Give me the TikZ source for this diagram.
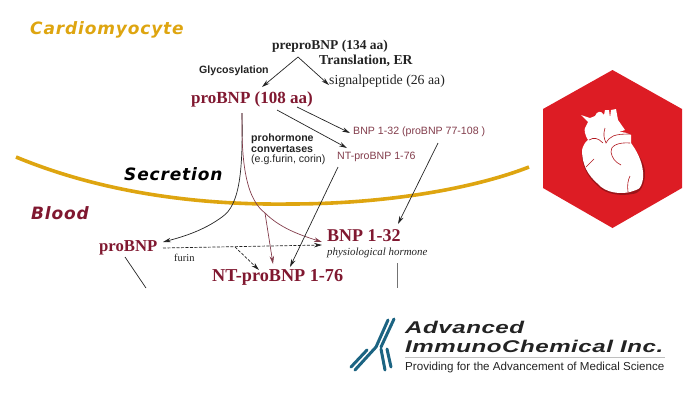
\documentclass[tikz,border=0pt]{standalone}
\usepackage{fontspec}
\setmainfont{Liberation Serif}
\setsansfont{Liberation Sans}
\newfontfamily\widefont[LetterSpace=5]{DejaVu Sans}
\newfontfamily\logofont[FakeStretch=1.42,LetterSpace=3]{Liberation Sans}
\usetikzlibrary{arrows.meta}
\definecolor{goldCurve}{RGB}{222,165,16}
\definecolor{wineText}{RGB}{128,24,48}
\definecolor{roseLine}{RGB}{130,60,75}
\definecolor{heartRed}{RGB}{221,28,36}
\definecolor{tealLogo}{RGB}{28,100,130}
\definecolor{inkGray}{RGB}{35,35,35}

\begin{document}
\begin{tikzpicture}[x=1pt, y=-1pt,
    region/.style={font=\widefont\bfseries\itshape\fontsize{17}{17}\selectfont, inner sep=0pt},
    peptide/.style={font=\rmfamily\bfseries\fontsize{17}{17}\selectfont, text=wineText, inner sep=0pt},
    plain/.style={font=\rmfamily\fontsize{13.8}{14}\selectfont, text=inkGray, inner sep=0pt},
    note/.style={font=\sffamily\bfseries\fontsize{10.6}{10.5}\selectfont, text=inkGray, inner sep=0pt},
    small/.style={font=\sffamily\fontsize{10.6}{11}\selectfont, text=roseLine, inner sep=0pt},
    brand/.style={font=\logofont\bfseries\itshape\fontsize{17}{17}\selectfont, text=inkGray, inner sep=0pt},
    arr/.style={-{Stealth[length=8pt,width=4.5pt]}, inkGray, line width=0.7pt},
    rosearr/.style={arr, roseLine},
    dasharr/.style={arr, dash pattern=on 3pt off 1.5pt},
    antibody/.style={tealLogo, line width=3pt, line cap=round}
  ]
  \useasboundingbox (0,0) rectangle (700,400);

  % membrane
  \draw[goldCurve, line width=3.6pt] (16,157) .. controls (110,196) and (210,205) .. (290,204)
    .. controls (380,204) and (470,190) .. (529,167);

  \node[region, text=goldCurve, anchor=west] (cardio) at (30,30) {Cardiomyocyte};
  \node[region, text=black, anchor=west] (secretion) at (124,174) {Secretion};
  \node[region, text=wineText, anchor=west] (blood) at (31,213) {Blood};

  \node[plain, font=\rmfamily\bfseries\fontsize{13.5}{14}\selectfont, anchor=west] (prepro) at (272,46) {preproBNP (134 aa)};
  \node[plain, font=\rmfamily\bfseries\fontsize{13.7}{14}\selectfont, anchor=west] (transl) at (319,61) {Translation, ER};
  \node[plain, anchor=west] (signal) at (329,81) {signalpeptide (26 aa)};
  \node[note, anchor=west] (glyco) at (199,71) {Glycosylation};
  \node[peptide, anchor=west] (pro108) at (191,99) {proBNP (108 aa)};
  \node[small, anchor=west] (bnpfrag) at (353,132) {BNP 1-32 (proBNP 77-108 )};
  \node[small, anchor=west] (ntfrag) at (337,157) {NT-proBNP 1-76};
  \node[note, anchor=north west, align=left] (conv) at (251,134) {prohormone\\convertases\\{\mdseries (e.g.furin, corin)}};

  \node[peptide, font=\rmfamily\bfseries\fontsize{16.7}{17}\selectfont, anchor=west] (problood) at (99,248) {proBNP};
  \node[plain, font=\rmfamily\fontsize{10.5}{11}\selectfont, anchor=west] (furin) at (174,258) {furin};
  \node[peptide, font=\rmfamily\bfseries\fontsize{18}{18}\selectfont, anchor=west] (bnp) at (327,236) {BNP 1-32};
  \node[plain, font=\rmfamily\itshape\fontsize{10.9}{11}\selectfont, anchor=west] (physio) at (327,253) {physiological hormone};
  \node[peptide, font=\rmfamily\bfseries\fontsize{18.2}{18}\selectfont, anchor=west] (ntblood) at (212,277) {NT-proBNP 1-76};

  % free ends of the connectors
  \coordinate (apex) at (298,57);
  \coordinate (stem) at (242,113);
  \coordinate (fork) at (265,213);
  \coordinate (dashfork) at (235,247);
  \coordinate (dashstart) at (163,248);
  \coordinate (cutA) at (146,288);

  \draw[arr] (apex) -- (262,87);
  \draw[arr] (apex) -- (329,85);
  \draw[arr] (297,107) -- (350,133);
  \draw[arr] (277,110) -- (347,148);
  \draw[arr] (stem) .. controls (243,170) and (240,205) .. (222,217) .. controls (207,228) and (190,235) .. (163,242);
  \draw[rosearr] (stem) .. controls (241,170) and (248,200) .. (265,213) .. controls (280,228) and (300,235) .. (322,242);
  \draw[rosearr] (fork) -- (273,264);
  \draw[arr] (338,167) -- (290,267);
  \draw[arr] (438,143) -- (398,224);
  \draw[dasharr] (dashstart) -- (322,245);
  \draw[dasharr] (dashfork) -- (259,270);
  \draw[inkGray, line width=0.7pt] (125,257) -- (cutA);
  \draw[black!55, line width=0.9pt] (397,263) -- (397,288);

  % hexagon with heart
  \fill[heartRed] (612.5,70) -- (682,109) -- (682,188) -- (612.5,228) -- (543,188) -- (543,109) -- cycle;
  \fill[heartRed!70!black] (582,150) .. controls (581,162) and (585,175) .. (598,186) .. controls (606,195) and (622,196) .. (632,194)
    .. controls (640,194) and (645,185) .. (645,173) .. controls (645,165) and (640,155) .. (632,148) -- cycle;
  \fill[white]
    (581,115) -- (590,118) -- (595,116) .. controls (597,111) and (601,110) .. (604,115) -- (605,110) -- (609,110) -- (610,118)
    -- (611,110) -- (616,109) -- (618,120) -- (625,130) -- (619,132) .. controls (624,132) and (628,133) .. (631,135)
    -- (631,143) .. controls (636,150) and (642,160) .. (643,172) .. controls (644,182) and (640,190) .. (636,190)
    -- (630,192) .. controls (622,194) and (606,194) .. (597,183) .. controls (588,175) and (582,165) .. (582,150)
    .. controls (583,146) and (585,142) .. (588,140) .. controls (585,135) and (584,130) .. (585,128) -- (588,122) -- cycle;
  \draw[heartRed!80!black, line width=0.6pt] (589,140) .. controls (594,137) and (598,138) .. (603,143)
    (605,128) .. controls (603,135) and (604,138) .. (606,143) .. controls (610,136) and (614,134) .. (630,134)
    (630,143) .. controls (618,142) and (610,146) .. (611,152) .. controls (612,158) and (615,162) .. (621,165)
    (586,167) -- (594,159)
    (628,192) .. controls (627,185) and (628,180) .. (630,176);

  % logo
  \draw[antibody] (388,320) -- (376,347) -- (355,370);
  \draw[antibody] (394,319) -- (381,347);
  \draw[antibody] (367,350) -- (351,367);
  \draw[antibody] (381,349) -- (385,370);
  \draw[antibody] (387,349) -- (391,367);
  \node[brand, anchor=west] (advanced) at (405,327) {Advanced};
  \node[brand, anchor=west] (immuno) at (405,346) {ImmunoChemical Inc.};
  \coordinate (ruleL) at (405,357);
  \coordinate (ruleR) at (665,357);
  \draw[black!25] (ruleL) -- (ruleR);
  \node[font=\sffamily\fontsize{11.6}{12}\selectfont, text=inkGray, inner sep=0pt, anchor=west] (slogan) at (405,367) {Providing for the Advancement of Medical Science};
\end{tikzpicture}
\end{document}
